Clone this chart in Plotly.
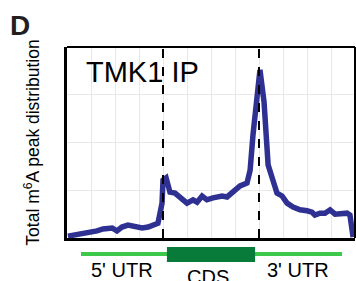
import plotly.graph_objects as go

# metagene position (0-4: 5'UTR, 4-8: CDS, 8-12: 3'UTR)
position = [0.04, 0.54, 0.96, 1.25, 1.50, 1.88, 2.08, 2.29, 2.54, 2.83, 3.13, 3.38, 3.67, 3.79,
            3.96, 4.00, 4.13, 4.29, 4.50, 4.71, 5.00, 5.25, 5.42, 5.63, 5.83, 6.08, 6.46, 6.67,
            6.92, 7.21, 7.50, 7.63, 7.75, 7.88, 8.04, 8.21, 8.29, 8.38, 8.58, 8.75, 8.96, 9.17,
            9.42, 9.71, 10.00, 10.21, 10.33, 10.54, 10.75, 10.96, 11.17, 11.46, 11.67, 11.79,
            11.88, 11.92]
density = [0.04, 0.08, 0.10, 0.15, 0.19, 0.21, 0.15, 0.23, 0.27, 0.25, 0.21, 0.23, 0.27, 0.31,
           0.73, 1.21, 1.26, 0.96, 0.94, 0.86, 0.73, 0.80, 0.75, 0.88, 0.80, 0.84, 0.88, 0.86,
           0.96, 1.09, 1.15, 1.42, 2.16, 2.85, 3.52, 2.85, 2.16, 1.53, 1.21, 0.94, 0.88, 0.73,
           0.65, 0.59, 0.57, 0.54, 0.48, 0.52, 0.52, 0.59, 0.50, 0.50, 0.52, 0.48, 0.17, 0.02]

boundaries = [4, 8]
region_labels = ["5' UTR", "CDS", "3' UTR"]
region_label_x = [0.191, 0.49, 0.802]

FONT = "Liberation Sans, Arial, sans-serif"

fig = go.Figure()
fig.add_trace(go.Scatter(x=position, y=density, mode="lines",
                         line=dict(color="#2E3192", width=5.5), showlegend=False,
                         hoverinfo="skip"))

for b in boundaries:
    fig.add_shape(type="line", x0=b, x1=b, y0=0, y1=4, xref="x", yref="y",
                  line=dict(color="black", width=2, dash="dash"))

# frame top/right thinner
fig.add_shape(type="line", xref="paper", yref="paper", x0=0, x1=1, y0=1, y1=1,
              line=dict(color="black", width=2))
fig.add_shape(type="line", xref="paper", yref="paper", x0=1, x1=1, y0=0, y1=1,
              line=dict(color="black", width=2))

# gene model below
fig.add_shape(type="line", xref="paper", yref="paper", x0=0.0486, x1=0.955,
              y0=-0.0838, y1=-0.0838, line=dict(color="#3CC84A", width=4))
fig.add_shape(type="rect", xref="paper", yref="paper", x0=0.347, x1=0.653,
              y0=-0.126, y1=-0.047, line=dict(width=0), fillcolor="#087A3A")

for lab, lx in zip(region_labels, region_label_x):
    yy = -0.205 if lab == "CDS" else -0.17
    fig.add_annotation(text=lab, x=lx, y=yy, xref="paper", yref="paper",
                       showarrow=False, xanchor="center", yanchor="middle",
                       font=dict(family=FONT, size=20, color="black"))

fig.add_annotation(text="TMK1 IP", x=0.06, y=0.965, xref="paper", yref="paper",
                   showarrow=False, xanchor="left", yanchor="top",
                   font=dict(family=FONT, size=29, color="black"))

fig.add_annotation(text="<b>D</b>", x=-0.205, y=1.205, xref="paper", yref="paper",
                   showarrow=False, xanchor="left", yanchor="top",
                   font=dict(family=FONT, size=28, color="#231F20"))

fig.update_layout(
    width=356, height=281,
    margin=dict(l=67, r=1, t=47, b=43, autoexpand=False),
    paper_bgcolor="white", plot_bgcolor="white",
    font=dict(family=FONT, color="black"),
    xaxis=dict(range=[0, 12], dtick=1, tick0=0, showticklabels=False, ticks="",
               showgrid=True, gridcolor="#E8E8E8", gridwidth=1, zeroline=False,
               showline=True, linecolor="black", linewidth=3, automargin=False),
    yaxis=dict(range=[0, 4], dtick=1, tick0=0, showticklabels=False, ticks="",
               showgrid=True, gridcolor="#E8E8E8", gridwidth=1, zeroline=False,
               showline=True, linecolor="black", linewidth=3, automargin=False,
               title=dict(text="Total m<sup>6</sup>A peak distribution", standoff=20,
                          font=dict(family=FONT, size=17.5, color="black"))),
)

fig.write_html("out.html", config={"displayModeBar": False},
               post_script="document.body.style.margin='0';document.body.style.padding='0';document.body.style.overflow='hidden';")
